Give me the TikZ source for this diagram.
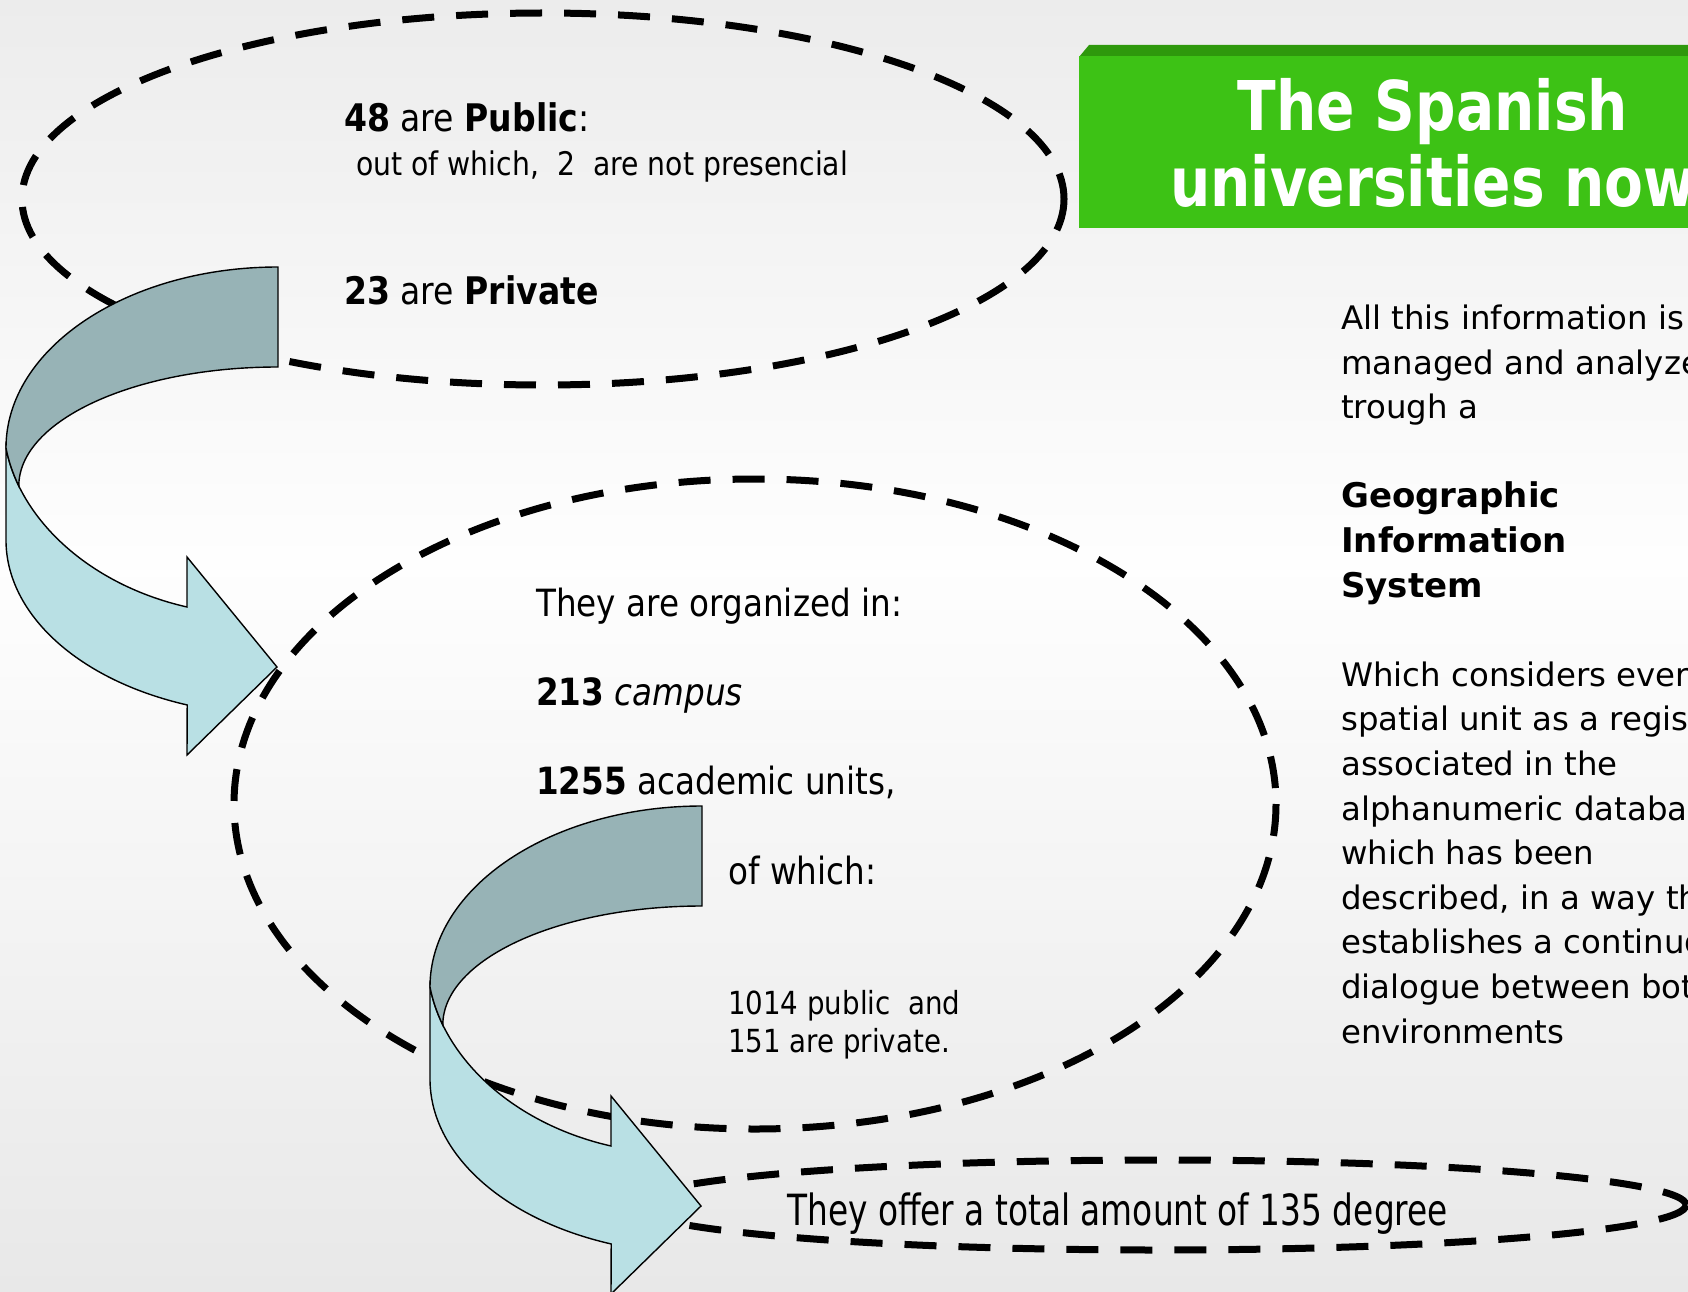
\documentclass[tikz,border=0pt]{standalone}
\usepackage{fontspec}
\setmainfont{DejaVu Sans}
\newfontfamily\tah[FakeStretch=0.87]{DejaVu Sans}
\newfontfamily\titlefont[FakeStretch=0.825]{DejaVu Sans}
\newfontfamily\narrowfont[FakeStretch=0.763]{DejaVu Sans}
\definecolor{bgtop}{HTML}{ECECEC}
\definecolor{bgmid}{HTML}{FEFEFE}
\definecolor{bgbot}{HTML}{E8E8E8}
\definecolor{gfront}{HTML}{3DC215}
\definecolor{gtop}{HTML}{2E980C}
\definecolor{darkband}{HTML}{97B3B6}
\definecolor{lightband}{HTML}{B9E0E4}
\tikzset{
  dashell/.style={draw=black, line width=7pt, dash pattern=on 32pt off 22pt},
  arrowline/.style={draw=black, line width=1.4pt, line join=miter},
  txt/.style={inner sep=0pt, anchor=base west, text=black},
  ttl/.style={inner sep=0pt, anchor=base, text=white},
}
\newcommand{\bandarrow}[2]{%
  \begin{scope}[shift={(#1,#2)}]
    \filldraw[arrowline, fill=lightband] (6,448) -- (6,540)
      arc[start angle=180, end angle=109.5, x radius=272, y radius=175]
      -- (187,755) -- (277,667) -- (187,557) -- (187,607)
      .. controls (90,585) and (20,520) .. (6,448) -- cycle;
    \filldraw[arrowline, fill=darkband] (278,267)
      arc[start angle=270, end angle=180, x radius=272, y radius=181]
      .. controls (8.5,461) and (12.9,473.7) .. (18.8,486)
      arc[start angle=180, end angle=270, x radius=259.2, y radius=119]
      -- cycle;
  \end{scope}}
\begin{document}
\begin{tikzpicture}[x=1pt,y=-1pt]
\useasboundingbox (0,0) rectangle (1688,1292);
\clip (0,0) rectangle (1688,1292);
% background
\shade[top color=bgtop, bottom color=bgmid] (0,0) rectangle (1688,561);
\shade[top color=bgmid, bottom color=bgbot] (0,560) rectangle (1688,1292);
% green title box
\fill[gtop] (1089,45) -- (1800,45) -- (1800,57) -- (1079,57) -- cycle;
\fill[gfront] (1079,56) rectangle (1800,228);
\node[ttl] (t1) at (1433,131) {\titlefont\fontsize{68.6}{76}\selectfont\bfseries The Spanish};
\node[ttl] (t2) at (1433,207) {\titlefont\fontsize{68.6}{76}\selectfont\bfseries universities now};
% dashed ellipses
\draw[dashell] (543,199) ellipse [x radius=521, y radius=186];
\draw[dashell] (755,804) ellipse [x radius=521, y radius=325];
\draw[dashell] (1159,1205) ellipse [x radius=527, y radius=45];
% curved arrows
\bandarrow{0}{0}
\bandarrow{424}{539}
% top ellipse text
\node[txt] (pub) at (344,132) {\tah\fontsize{38}{45}\selectfont\textbf{48} are \textbf{Public}:};
\node[txt] (nopres) at (356,175.5) {\tah\fontsize{32.5}{38}\selectfont out of which,\ \ 2\ \ are not presencial};
\node[txt] (priv) at (344,304) {\tah\fontsize{38}{45}\selectfont\textbf{23} are \textbf{Private}};
% middle ellipse text
\node[txt] (org) at (536,616) {\tah\fontsize{37.5}{45}\selectfont They are organized in:};
\node[txt] (camp) at (536,705) {\tah\fontsize{37.5}{45}\selectfont\textbf{213} \textit{campus}};
\node[txt] (units) at (536,794) {\tah\fontsize{37.5}{45}\selectfont\textbf{1255} academic units,};
\node[txt] (ofw) at (728,884) {\tah\fontsize{37.5}{45}\selectfont of which:};
\node[txt] (split) at (728,1014) {\parbox[t]{400pt}{\tah\fontsize{31.8}{38}\selectfont 1014 public\ \ and\\151 are private.}};
% bottom ellipse text
\node[txt] (deg) at (787,1225) {\narrowfont\fontsize{43}{50}\selectfont They offer a total amount of 135 degree};
% right column text
\node[txt] (gis) at (1341,329.5) {\parbox[t]{560pt}{\fontsize{32.4}{44.6}\selectfont
All this information is\\
managed and analyzed\\
trough a\\
\mbox{}\\
{\fontsize{34}{44.6}\selectfont\bfseries Geographic}\\
{\fontsize{34}{44.6}\selectfont\bfseries Information}\\
{\fontsize{34}{44.6}\selectfont\bfseries System}\\
\mbox{}\\
Which considers every\\
spatial unit as a register\\
associated in the\\
alphanumeric database\\
which has been\\
described, in a way that\\
establishes a continuous\\
dialogue between both\\
environments}};
\end{tikzpicture}
\end{document}
